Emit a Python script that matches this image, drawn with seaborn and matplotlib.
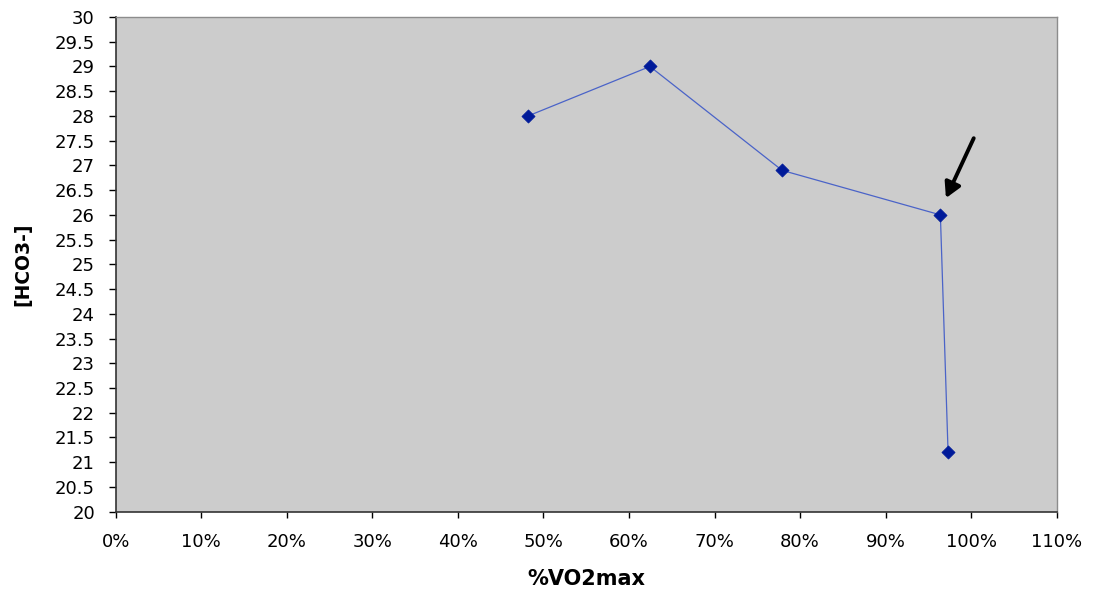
import matplotlib
matplotlib.use("Agg")
import matplotlib.pyplot as plt
import seaborn as sns
import pandas as pd
import numpy as np
from matplotlib.ticker import PercentFormatter, FuncFormatter

# %VO2max (fraction) and bicarbonate concentration
vo2max = [0.482, 0.6245, 0.779, 0.964, 0.973]
hco3 = [28.0, 29.0, 26.9, 26.0, 21.2]

# arrow pointing at the bicarbonate threshold point
arrow_tail = (1.003, 27.55)
arrow_tip = (0.9705, 26.34)

df = pd.DataFrame({"vo2": vo2max, "hco3": hco3})

sns.set_style("white")
plt.rcParams["font.family"] = ["DejaVu Sans"]
plt.rcParams["text.color"] = "black"
plt.rcParams["axes.labelcolor"] = "black"
plt.rcParams["xtick.color"] = "black"
plt.rcParams["ytick.color"] = "black"

fig = plt.figure(figsize=(10.93, 5.95), dpi=100)
ax = fig.add_axes([0.1059, 0.1400, 0.8609, 0.8314])
ax.set_facecolor("#cccccc")

sns.lineplot(data=df, x="vo2", y="hco3", sort=False, ax=ax,
             color="#4a63c8", linewidth=0.9, zorder=2)
sns.scatterplot(data=df, x="vo2", y="hco3", ax=ax, marker="D",
                color="#001a99", s=45, edgecolor="#001a99", linewidth=0.5,
                zorder=3)

ax.annotate("", xy=arrow_tip, xytext=arrow_tail,
            arrowprops=dict(arrowstyle="-|>,head_width=0.5,head_length=0.9",
                            color="black", lw=2.8, shrinkA=0, shrinkB=0),
            zorder=4)

ax.set_xlim(0, 1.1)
ax.set_ylim(20, 30)
ax.set_xticks(np.arange(0, 1.1001, 0.1))
ax.set_yticks(np.arange(20, 30.001, 0.5))
ax.xaxis.set_major_formatter(PercentFormatter(1.0, decimals=0))
ax.yaxis.set_major_formatter(FuncFormatter(lambda v, p: f"{v:g}"))

ax.tick_params(axis="both", direction="out", width=1, color="black",
               labelcolor="black", labelsize=13, bottom=True, left=True)
ax.tick_params(axis="x", length=4.5, pad=11)
ax.tick_params(axis="y", length=5, pad=10)

for side in ("left", "bottom"):
    ax.spines[side].set_color("#333333")
    ax.spines[side].set_linewidth(1.2)
for side in ("top", "right"):
    ax.spines[side].set_color("#8c8c8c")
    ax.spines[side].set_linewidth(1.0)

ax.set_xlabel("%VO2max", fontsize=15, fontweight="bold", labelpad=13,
              color="black")
ax.set_ylabel("[HCO3-]", fontsize=13.5, fontweight="bold", labelpad=16,
              color="black")

fig.savefig("out.png", dpi=100)
